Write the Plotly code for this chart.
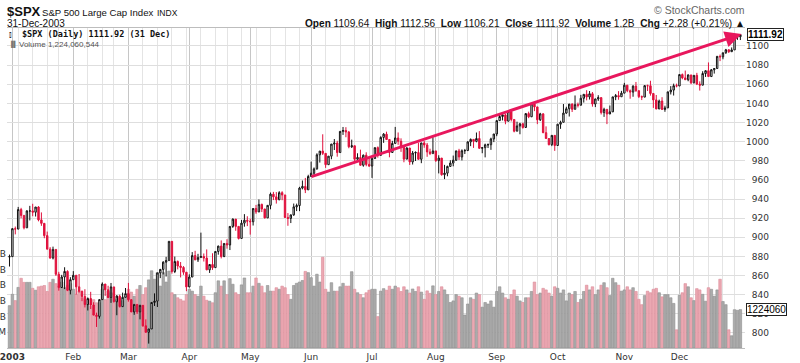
import plotly.graph_objects as go
import pandas as pd

# ---------------- data ----------------
HOLIDAYS = ["2003-01-01", "2003-01-20", "2003-02-17", "2003-04-18", "2003-05-26",
            "2003-07-04", "2003-09-01", "2003-11-27", "2003-12-25"]

CLOSE = [
    879.82,
    909.03, 908.59, 929.01, 922.93, 909.93, 927.57, 927.57, 926.26, 931.66, 918.22, 914.60, 901.78, 887.62, 878.36, 887.34, 861.40, 847.48, 858.54, 864.36, 844.61, 855.70,
    860.32, 848.20, 843.59, 838.15, 829.69, 835.97, 829.20, 818.68, 817.37, 834.89, 851.17, 845.13, 837.10, 848.17, 832.58, 838.57, 827.55, 837.28, 841.15,
    834.81, 821.99, 829.85, 822.10, 828.89, 807.48, 800.73, 804.19, 831.90, 833.27, 862.79, 866.45, 874.02, 875.67, 895.79, 864.23, 874.74, 869.95, 868.52, 863.50, 848.18,
    858.48, 880.90, 876.45, 878.85, 879.93, 878.29, 865.99, 871.58, 868.30, 885.23, 890.81, 879.91, 893.58, 892.01, 911.37, 919.02, 911.43, 898.81, 914.84, 917.84, 916.92,
    916.30, 930.08, 926.55, 934.39, 929.62, 920.27, 933.41, 945.11, 942.30, 939.28, 946.67, 944.30, 920.77, 919.73, 923.42, 931.87, 933.22, 951.48, 953.22, 949.64, 963.59,
    967.00, 971.56, 986.24, 990.14, 987.76, 975.93, 984.84, 997.48, 998.51, 988.61, 1010.74, 1011.66, 1010.09, 994.70, 995.69, 981.64, 983.45, 975.32, 985.82, 976.22, 974.50,
    982.32, 993.75, 985.70, 1004.42, 1007.84, 1002.21, 988.70, 998.14, 1003.86, 1000.42, 994.09, 981.73, 993.32, 978.80, 988.11, 988.61, 981.60, 998.68, 996.52, 989.28, 987.49, 990.31,
    980.15, 982.82, 965.46, 967.08, 974.12, 977.59, 980.59, 990.35, 984.03, 990.51, 990.67, 999.74, 1002.35, 1000.30, 1003.27, 993.06, 993.71, 996.73, 996.79, 1002.84, 1008.01,
    1021.99, 1026.27, 1027.97, 1021.39, 1031.64, 1023.17, 1010.92, 1016.42, 1018.63, 1014.81, 1029.32, 1025.97, 1039.58, 1036.30, 1022.82, 1029.03, 1009.38, 1003.27, 996.85, 1006.58, 995.97,
    1018.22, 1020.24, 1029.85, 1034.35, 1039.25, 1033.78, 1038.73, 1038.06, 1045.35, 1049.48, 1046.76, 1050.07, 1039.32, 1044.68, 1046.03, 1030.36, 1033.77, 1028.91, 1031.13, 1046.79, 1048.11, 1046.94, 1050.71,
    1059.02, 1053.25, 1051.81, 1058.05, 1053.21, 1047.11, 1046.57, 1058.53, 1058.41, 1050.35, 1043.63, 1034.15, 1042.44, 1033.65, 1035.28, 1052.08, 1053.89, 1058.45, 1058.20,
    1070.12, 1066.62, 1064.73, 1069.72, 1061.50, 1069.30, 1060.18, 1059.05, 1071.21, 1074.14, 1068.04, 1075.13, 1076.48, 1089.18, 1088.66, 1092.94, 1096.02, 1094.04, 1095.89, 1109.48, 1109.64, 1111.92,
]

OPEN = [
    879.39,
    879.82, 909.03, 908.59, 929.01, 922.93, 909.93, 927.57, 927.57, 926.26, 931.66, 918.22, 914.60, 901.78, 887.62, 878.36, 887.34, 861.40, 847.48, 858.54, 864.36, 844.61,
    855.70, 860.32, 848.20, 843.59, 838.15, 829.69, 835.97, 829.20, 818.68, 817.37, 834.89, 851.17, 845.13, 837.10, 848.17, 832.58, 838.57, 827.55, 837.28,
    841.15, 834.81, 821.99, 829.85, 822.10, 828.89, 807.48, 800.73, 804.19, 831.90, 833.27, 862.79, 866.45, 874.02, 875.67, 895.79, 864.23, 874.74, 869.95, 868.52, 863.50,
    848.18, 858.48, 880.90, 876.45, 878.85, 879.93, 878.29, 865.99, 871.58, 868.30, 885.23, 890.81, 879.91, 893.58, 892.01, 911.37, 919.02, 911.43, 898.81, 914.84, 917.84,
    916.92, 916.30, 930.08, 926.55, 934.39, 929.62, 920.27, 933.41, 945.11, 942.30, 939.28, 946.67, 944.30, 920.77, 919.73, 923.42, 931.87, 933.22, 951.48, 953.22, 949.64,
    963.59, 967.00, 971.56, 986.24, 990.14, 987.76, 975.93, 984.84, 997.48, 998.51, 988.61, 1010.74, 1011.66, 1010.09, 994.70, 995.69, 981.64, 983.45, 975.32, 985.82, 976.22,
    974.50, 982.32, 993.75, 985.70, 1004.42, 1007.84, 1002.21, 988.70, 998.14, 1003.86, 1000.42, 994.09, 981.73, 993.32, 978.80, 988.11, 988.61, 981.60, 998.68, 996.52, 989.28, 987.49,
    990.31, 980.15, 982.82, 965.46, 967.08, 974.12, 977.59, 980.59, 990.35, 984.03, 990.51, 990.67, 999.74, 1002.35, 1000.30, 1003.27, 993.06, 993.71, 996.73, 996.79, 1002.84,
    1008.01, 1021.99, 1026.27, 1027.97, 1021.39, 1031.64, 1023.17, 1010.92, 1016.42, 1018.63, 1014.81, 1029.32, 1025.97, 1039.58, 1036.30, 1022.82, 1029.03, 1009.38, 1003.27, 996.85, 1006.58,
    995.97, 1018.22, 1020.24, 1029.85, 1034.35, 1039.25, 1033.78, 1038.73, 1038.06, 1045.35, 1049.48, 1046.76, 1050.07, 1039.32, 1044.68, 1046.03, 1030.36, 1033.77, 1028.91, 1031.13, 1046.79, 1048.11, 1046.94,
    1050.71, 1059.02, 1053.25, 1051.81, 1058.05, 1053.21, 1047.11, 1046.57, 1058.53, 1058.41, 1050.35, 1043.63, 1034.15, 1042.44, 1033.65, 1035.28, 1052.08, 1053.89, 1058.45,
    1058.20, 1070.12, 1066.62, 1064.73, 1069.72, 1061.50, 1069.30, 1060.18, 1059.05, 1071.21, 1074.14, 1068.04, 1075.13, 1076.48, 1089.18, 1088.66, 1092.94, 1096.02, 1094.04, 1095.89, 1109.48, 1109.64,
]

HIGH = [
    881.93,
    909.50, 911.25, 931.77, 930.81, 922.93, 928.31, 932.89, 935.05, 931.66, 932.59, 926.03, 914.60, 906.00, 889.74, 890.25, 887.34, 863.95, 860.76, 868.72, 865.48, 858.33,
    864.64, 860.32, 861.63, 844.23, 845.73, 837.16, 843.02, 832.12, 821.25, 834.89, 852.87, 851.17, 849.37, 852.28, 848.17, 839.55, 840.10, 842.19, 847.00,
    852.34, 835.43, 829.87, 829.85, 829.41, 828.89, 814.25, 804.19, 832.02, 841.39, 862.79, 866.94, 874.99, 879.60, 895.90, 895.79, 879.87, 875.80, 874.15, 869.88, 863.50,
    861.28, 884.57, 885.89, 882.73, 904.89, 883.11, 887.35, 871.78, 883.34, 885.26, 891.27, 896.77, 893.83, 898.01, 911.74, 919.74, 919.02, 911.43, 918.15, 924.24, 922.01,
    919.68, 930.56, 933.88, 939.61, 935.22, 929.62, 933.77, 946.84, 947.51, 947.29, 948.23, 948.16, 944.30, 925.34, 923.85, 935.30, 935.20, 952.76, 959.39, 962.08, 965.38,
    979.11, 973.02, 987.85, 990.14, 1007.69, 987.76, 984.84, 997.48, 1002.74, 1000.92, 1010.86, 1015.33, 1015.12, 1011.22, 1002.09, 995.69, 987.84, 991.64, 986.53, 988.88, 983.61,
    983.26, 993.78, 995.00, 1005.56, 1008.92, 1010.43, 1002.21, 1000.86, 1015.41, 1009.61, 1003.47, 994.09, 994.25, 993.32, 990.29, 989.86, 998.89, 998.71, 1000.68, 998.64, 992.62, 1004.59,
    990.31, 985.75, 982.82, 975.74, 974.89, 980.57, 985.46, 990.41, 992.50, 991.91, 992.39, 1000.35, 1003.30, 1002.35, 1009.53, 1011.01, 993.71, 997.93, 998.05, 1004.12, 1008.01,
    1022.05, 1029.34, 1029.17, 1029.21, 1032.41, 1031.64, 1023.17, 1020.88, 1019.65, 1019.79, 1029.66, 1031.34, 1040.16, 1040.29, 1036.30, 1030.12, 1029.83, 1015.97, 1003.45, 1006.89, 1006.58,
    1018.22, 1021.87, 1039.31, 1036.48, 1039.25, 1040.06, 1048.28, 1040.84, 1048.90, 1049.49, 1053.79, 1052.94, 1051.89, 1044.69, 1048.57, 1046.03, 1035.44, 1033.77, 1037.75, 1046.79, 1049.83, 1052.81, 1053.09,
    1061.44, 1059.02, 1054.54, 1058.94, 1062.39, 1053.65, 1048.23, 1059.10, 1059.62, 1063.65, 1050.35, 1048.77, 1043.95, 1046.48, 1037.57, 1052.08, 1058.05, 1060.63, 1060.63,
    1070.47, 1071.22, 1074.30, 1070.37, 1069.72, 1069.59, 1071.94, 1063.02, 1073.63, 1074.76, 1082.79, 1075.94, 1076.54, 1089.50, 1091.06, 1092.94, 1096.95, 1096.40, 1098.47, 1109.48, 1109.75, 1112.56,
]

LOW = [
    869.45,
    879.82, 903.07, 908.59, 919.93, 908.32, 909.93, 917.66, 922.05, 921.72, 916.70, 911.98, 899.02, 887.62, 877.64, 876.89, 859.71, 844.25, 847.48, 845.86, 843.74, 840.34,
    855.70, 840.19, 842.11, 833.25, 826.70, 823.53, 825.09, 818.49, 806.29, 815.03, 834.89, 838.79, 836.56, 831.48, 831.83, 818.54, 826.68, 827.55, 837.28,
    832.74, 821.96, 819.00, 819.85, 814.27, 806.57, 800.30, 788.90, 804.19, 828.26, 827.17, 857.36, 861.21, 859.01, 875.67, 862.02, 862.59, 866.47, 858.09, 860.83, 843.68,
    847.85, 858.48, 876.12, 874.23, 878.85, 874.68, 865.72, 862.76, 865.92, 868.30, 881.85, 877.93, 879.20, 888.17, 886.70, 909.89, 906.83, 897.72, 898.81, 911.10, 911.70,
    902.83, 912.35, 924.55, 926.38, 926.41, 919.72, 920.27, 929.30, 938.91, 935.24, 938.79, 938.79, 920.23, 912.05, 914.91, 922.54, 927.42, 927.33, 950.12, 946.23, 949.64,
    963.59, 964.47, 970.72, 978.13, 986.01, 972.59, 975.93, 981.61, 991.27, 984.27, 988.61, 1007.04, 1004.61, 993.08, 993.36, 977.40, 979.08, 974.86, 973.80, 974.29, 973.60,
    962.10, 982.32, 983.34, 985.70, 998.73, 1002.21, 983.63, 988.70, 998.14, 996.67, 989.30, 978.45, 981.71, 975.63, 976.08, 979.79, 981.07, 977.49, 993.59, 984.15, 985.96, 987.49,
    978.86, 966.79, 964.43, 960.84, 963.82, 973.83, 974.21, 979.90, 980.85, 980.36, 987.10, 990.67, 995.30, 993.46, 999.33, 992.62, 987.91, 983.57, 993.33, 991.42, 999.52,
    1005.73, 1021.99, 1022.19, 1018.19, 1021.39, 1021.14, 1009.74, 1010.92, 1007.71, 1013.59, 1014.81, 1024.53, 1025.75, 1031.89, 1018.30, 1021.54, 1008.93, 1003.26, 996.08, 995.31, 990.36,
    995.97, 1013.38, 1020.24, 1029.15, 1026.27, 1030.96, 1033.78, 1035.74, 1038.06, 1040.84, 1043.15, 1044.04, 1036.57, 1036.13, 1042.59, 1028.39, 1025.89, 1018.32, 1028.91, 1031.13, 1043.35, 1043.82, 1046.94,
    1050.71, 1051.70, 1044.88, 1046.93, 1052.17, 1045.58, 1043.46, 1046.57, 1052.96, 1048.11, 1035.28, 1034.00, 1034.15, 1033.42, 1031.20, 1035.28, 1049.31, 1048.22, 1056.77,
    1058.20, 1065.22, 1064.63, 1063.15, 1060.09, 1060.93, 1059.16, 1053.41, 1059.05, 1067.64, 1068.00, 1068.04, 1071.14, 1076.48, 1084.19, 1086.14, 1091.73, 1092.73, 1094.04, 1095.89, 1106.41, 1106.21,
]

VOLUME_BN = [
    1.35,
    1.71, 1.51, 1.93, 2.22, 2.09, 2.09, 2.09, 1.90, 1.84, 1.95, 1.97, 1.99, 1.80, 2.09, 2.19, 2.05, 1.97, 2.10, 1.92, 1.99, 2.05,
    1.87, 1.71, 1.81, 1.60, 1.55, 1.38, 1.33, 1.54, 1.44, 1.44, 1.87, 1.54, 1.81, 1.76, 1.44, 1.54, 1.60, 1.50, 1.65,
    1.87, 1.78, 1.65, 1.87, 1.99, 1.70, 1.92, 2.17, 2.46, 2.19, 2.40, 1.97, 2.40, 2.10, 2.45, 1.76, 1.70, 1.60, 1.55, 1.50, 1.70,
    1.87, 1.81, 1.70, 1.65, 1.97, 1.65, 1.52, 1.49, 1.44, 1.76, 2.14, 1.97, 2.14, 1.70, 2.21, 2.03, 1.76, 1.70, 2.01, 2.23, 1.76,
    1.76, 1.97, 2.23, 2.06, 1.97, 1.76, 1.99, 1.81, 1.81, 1.92, 1.87, 1.97, 1.92, 1.70, 1.55, 1.99, 2.06, 2.10, 2.15, 2.44, 2.40,
    2.24, 1.97, 2.35, 2.10, 2.89, 1.87, 1.78, 2.08, 1.81, 1.81, 1.95, 2.06, 1.97, 1.97, 2.43, 1.87, 1.76, 1.70, 1.60, 1.76, 1.84,
    1.87, 1.87, 1.00, 1.81, 1.89, 1.84, 1.97, 1.87, 1.97, 1.92, 1.80, 1.95, 1.85, 1.75, 1.88, 1.80, 1.95, 1.78, 1.55, 1.82, 1.74, 1.98,
    1.70, 1.80, 1.95, 1.85, 1.70, 1.45, 1.50, 1.70, 1.65, 1.60, 1.05, 1.40, 1.60, 1.55, 1.75, 1.70, 1.30, 1.45, 1.40, 1.50, 1.30,
    1.80, 1.95, 1.75, 1.60, 1.55, 1.70, 1.85, 1.65, 1.50, 1.45, 1.60, 1.60, 1.80, 2.10, 1.70, 1.75, 1.90, 1.85, 1.75, 1.65, 1.95,
    1.90, 1.75, 1.85, 1.50, 1.75, 1.70, 1.80, 1.45, 1.55, 1.80, 2.00, 1.85, 1.95, 1.70, 1.85, 2.00, 2.08, 1.92, 1.67, 2.22, 2.08, 2.00, 1.81,
    1.85, 1.95, 1.85, 1.92, 1.80, 1.55, 1.38, 1.67, 1.81, 1.76, 1.87, 1.90, 1.76, 1.63, 1.70, 1.70, 1.60, 1.42, 0.58,
    1.68, 1.76, 2.05, 1.95, 1.60, 1.51, 1.89, 1.85, 1.71, 1.49, 1.92, 1.87, 1.65, 1.85, 2.19, 1.48, 1.38, 0.58, 0.39, 1.22, 1.20, 1.224060544,
]

MONTH_LABELS = ["<b>2003</b>", "Feb", "Mar", "Apr", "May", "Jun", "Jul", "Aug", "Sep", "Oct", "Nov", "Dec"]
PRICE_TICKS = [800, 820, 840, 860, 880, 900, 920, 940, 960, 980, 1000, 1020, 1040, 1060, 1080, 1100]
VOLUME_TICKS_BN = [0.5, 1.0, 1.5, 2.0, 2.5, 3.0]
VOLUME_TICK_TEXT = ["500M", "1.0B", "1.5B", "2.0B", "2.5B", "3.0B"]
TREND_START = ("2003-06-02", 963.0)
TREND_END = ("2003-12-31", 1112.5)

# ---------------- derived ----------------
bd = pd.bdate_range("2002-12-31", "2003-12-31")
DATES = [d for d in bd if d.strftime("%Y-%m-%d") not in HOLIDAYS]
n = len(DATES)
for arr in (CLOSE, OPEN, HIGH, LOW, VOLUME_BN):
    assert len(arr) == n, (len(arr), n)

idx = list(range(n))
date_pos = {d.strftime("%Y-%m-%d"): i for i, d in enumerate(DATES)}
month_idx = [i for i in range(1, n) if DATES[i].month != DATES[i - 1].month]
week_idx = [i for i in range(1, n) if DATES[i].weekday() <= DATES[i - 1].weekday()]

up = [CLOSE[i] >= (CLOSE[i - 1] if i else OPEN[0]) for i in idx]
vol_fill = ["#ababab" if u else "#eba8b2" for u in up]
vol_edge = ["#8f8f8f" if u else "#dc8c98" for u in up]

RED = "#e0103c"

fig = go.Figure()
fig.add_trace(go.Bar(
    x=idx, y=[v * 1e9 for v in VOLUME_BN], xaxis="x", yaxis="y",
    marker=dict(color=vol_fill, line=dict(color=vol_edge, width=0.6)),
    hoverinfo="skip",
))
fig.add_trace(go.Candlestick(
    x=idx, open=OPEN, high=HIGH, low=LOW, close=CLOSE, xaxis="x", yaxis="y2",
    increasing=dict(line=dict(color="#111111", width=1), fillcolor="#ffffff"),
    decreasing=dict(line=dict(color=RED, width=1), fillcolor=RED),
    whiskerwidth=0,
))

# layout geometry (pixels)
L, R, T, B = 7, 745, 28, 348
W, H = 800, 363


def px(x):
    return (x - L) / (R - L)


def py(y):
    return (B - y) / (B - T)


PRICE_RANGE = [784.3, 1118.8]
VOL_TOP = (B - T) / 31.4 * 1e9

price_text = [("\u2007" if p < 1000 else "") + str(p) for p in PRICE_TICKS]

fig.update_layout(
    width=W, height=H,
    margin=dict(l=L, r=W - R, t=T, b=H - B, autoexpand=False),
    paper_bgcolor="white", plot_bgcolor="white",
    showlegend=False, bargap=0.12,
    font=dict(family="DejaVu Sans", size=9, color="#333333"),
    xaxis=dict(
        range=[-0.86, 253.6], tickvals=month_idx, ticktext=MONTH_LABELS, ticks="",
        showgrid=True, gridcolor="#c6c6c6", gridwidth=1, automargin=False,
        ticklabeloverflow="allow",
        minor=dict(tickvals=week_idx, showgrid=True, gridcolor="#e4e4e4", gridwidth=1),
        zeroline=False, showline=True, linecolor="#bdbdbd", mirror=True,
        rangeslider=dict(visible=False), tickfont=dict(size=9, color="#333333"),
    ),
    yaxis=dict(
        range=[0, VOL_TOP], tickvals=[v * 1e9 for v in VOLUME_TICKS_BN], ticktext=VOLUME_TICK_TEXT,
        showgrid=False, zeroline=False, ticks="", side="left", showline=False, automargin=False,
        ticklabeloverflow="allow", tickfont=dict(size=9, color="#333333"),
    ),
    yaxis2=dict(
        range=PRICE_RANGE, overlaying="y", side="right", tickvals=PRICE_TICKS, ticktext=price_text,
        showgrid=True, gridcolor="#dedede", zeroline=False, ticks="", showline=False, automargin=False,
        tickfont=dict(size=9, color="#333333"),
    ),
)

# white box behind the in-plot legend
fig.add_shape(type="rect", xref="paper", yref="paper", x0=px(L), x1=px(180), y0=py(50), y1=py(T),
              fillcolor="white", line=dict(width=0), layer="between")

chg = CLOSE[-1] - CLOSE[-2]
pct = chg / CLOSE[-2] * 100
hdr = (f"<b>Open</b> {OPEN[-1]:.2f}  <b>High</b> {HIGH[-1]:.2f}  <b>Low</b> {LOW[-1]:.2f}  "
       f"<b>Close</b> {CLOSE[-1]:.2f}  <b>Volume</b> {VOLUME_BN[-1]:.1f}B  "
       f"<b>Chg</b> {chg:+.2f} ({pct:+.2f}%) \u25B2")

ann = []


def txt(x, y, text, size, anchor="left", family="Liberation Sans", color="#111111"):
    ann.append(dict(xref="paper", yref="paper", x=px(x), y=py(y), text=text, showarrow=False,
                    xanchor=anchor, yanchor="middle", font=dict(family=family, size=size, color=color)))


txt(5, 11.5, "<b>&#36;SPX</b>", 13)
txt(40, 12.5, "S&amp;P 500 Large Cap Index", 9.6)
txt(155, 12.5, "INDX", 8.5)
txt(5, 23.5, "31-Dec-2003", 10)
txt(747, 23, hdr, 10.1, anchor="right")
txt(747, 10, "\u00A9 StockCharts.com", 10.5, anchor="right", color="#666666")
txt(20, 34.5, f"<b>&#36;SPX (Daily) {CLOSE[-1]:.2f} (31 Dec)</b>", 8.5, family="DejaVu Sans Mono")
txt(17, 44.5, f"Volume {int(round(VOLUME_BN[-1] * 1e9)):,}", 8, color="#555555")
txt(7, 34.5, "\u2AFE", 8, color="#333333")
txt(7, 44.5, "\u2590\u258C", 6, color="#777777")

# trend arrow
ann.append(dict(
    xref="x", yref="y2", axref="x", ayref="y2",
    x=date_pos[TREND_END[0]] + 0.4, y=TREND_END[1],
    ax=date_pos[TREND_START[0]] - 0.4, ay=TREND_START[1],
    text="", showarrow=True, arrowhead=2, arrowsize=1.1, arrowwidth=3, arrowcolor="#e8175d",
    standoff=0, startstandoff=0,
))

# last-value tags on the right axis
ann.append(dict(xref="paper", yref="y2", x=1, y=CLOSE[-1], xanchor="left", xshift=2,
                text=f"<b>{CLOSE[-1]:.2f}</b>", showarrow=False,
                font=dict(family="Liberation Sans", size=10, color="#000"),
                bgcolor="white", bordercolor="#222", borderwidth=1, borderpad=0))
ann.append(dict(xref="paper", yref="y", x=1, y=VOLUME_BN[-1] * 1e9, xanchor="left", xshift=1,
                text=f"{int(VOLUME_BN[-1] * 1e9) // 1000:d}", showarrow=False,
                font=dict(family="Liberation Sans", size=10, color="#000"),
                bgcolor="white", bordercolor="#222", borderwidth=1, borderpad=0))

fig.update_layout(annotations=ann)
fig.write_html("out.html", config={"displayModeBar": False},
               post_script="document.body.style.margin='0px';document.body.style.padding='0px';")
